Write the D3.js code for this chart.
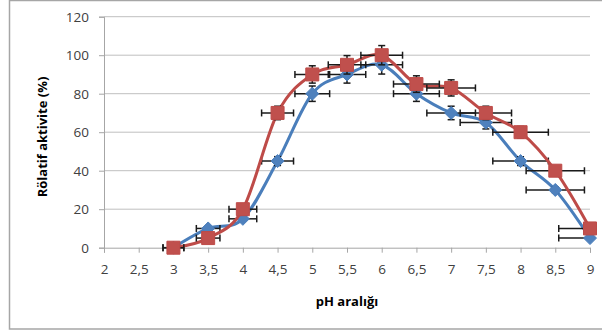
<!DOCTYPE html>
<html>
<head>
<meta charset="utf-8">
<script src="https://cdn.jsdelivr.net/npm/d3@7"></script>
<style>
  body { margin: 0; background: #fff; }
  svg { display: block; }
</style>
</head>
<body>
<svg id="chart" width="602" height="332"></svg>
<script>
// pH values (x) and relative activity (%) for two series
const phValues = [3, 3.5, 4, 4.5, 5, 5.5, 6, 6.5, 7, 7.5, 8, 8.5, 9];
const blueValues = [0, 10, 15, 45, 80, 90, 95, 80, 70, 65, 45, 30, 5];
const redValues = [0, 5, 20, 70, 90, 95, 100, 85, 83, 70, 60, 40, 10];

// error bar sizes (x in pH, y in %)
const xErrors = [0.15, 0.17, 0.2, 0.23, 0.25, 0.27, 0.3, 0.33, 0.35, 0.37, 0.4, 0.42, 0.45];
const blueYErrors = [0, 0.5, 0.8, 2.3, 4, 4.5, 4.8, 4, 3.5, 3.3, 2.3, 1.5, 0.3];
const redYErrors = [0, 0.3, 1, 3.5, 4.5, 4.8, 5, 4.3, 4.2, 3.5, 3, 2, 0.5];

const xTicks = [2, 2.5, 3, 3.5, 4, 4.5, 5, 5.5, 6, 6.5, 7, 7.5, 8, 8.5, 9];
const yTicks = [0, 20, 40, 60, 80, 100, 120];

const series = [
  { name: 'blue', values: blueValues, yErr: blueYErrors, line: '#4a7ebb', fill: '#4f81bd', marker: 'diamond' },
  { name: 'red', values: redValues, yErr: redYErrors, line: '#be4b48', fill: '#c0504d', marker: 'square' },
];

const plot = { left: 104, right: 590, top: 16.7, bottom: 247.7 };

const svg = d3.select('#chart');

// chart area border
svg.append('rect')
  .attr('x', 9.5)
  .attr('y', 0.5)
  .attr('width', 600)
  .attr('height', 328.5)
  .attr('fill', 'none')
  .attr('stroke', '#a6a6a6')
  .attr('stroke-width', 1.5);

const x = d3.scaleLinear().domain([2, 9]).range([plot.left, plot.right]);
const y = d3.scaleLinear().domain([0, 120]).range([plot.bottom, plot.top]);

// horizontal gridlines
svg.append('g')
  .attr('class', 'grid')
  .selectAll('line')
  .data(yTicks.filter((t) => t > 0))
  .join('line')
  .attr('x1', plot.left)
  .attr('x2', plot.right)
  .attr('y1', (d) => y(d))
  .attr('y2', (d) => y(d))
  .attr('stroke', '#bfbfbf')
  .attr('stroke-width', 1);

const tickFont = '"Open Sans", sans-serif';

// y axis
svg.append('g')
  .attr('transform', `translate(${plot.left},0)`)
  .call(d3.axisLeft(y).tickValues(yTicks).tickSize(5).tickPadding(10))
  .call((g) => g.select('.domain').attr('stroke', '#a6a6a6'))
  .call((g) => g.selectAll('.tick line').attr('stroke', '#a6a6a6'))
  .call((g) => g.selectAll('.tick text')
    .attr('fill', '#404040')
    .style('font', `13.5px ${tickFont}`));

// x axis
svg.append('g')
  .attr('transform', `translate(0,${plot.bottom})`)
  .call(d3.axisBottom(x).tickValues(xTicks).tickSize(5).tickPadding(12)
    .tickFormat((d) => String(d).replace('.', ',')))
  .call((g) => g.select('.domain').attr('stroke', '#a6a6a6'))
  .call((g) => g.selectAll('.tick line').attr('stroke', '#a6a6a6'))
  .call((g) => g.selectAll('.tick text')
    .attr('fill', '#404040')
    .style('font', `13.5px ${tickFont}`));

// axis titles
svg.append('text')
  .attr('transform', 'translate(47,137) rotate(-90)')
  .attr('text-anchor', 'middle')
  .style('font', `bold 13px ${tickFont}`)
  .attr('fill', '#000')
  .text('Rölatif aktivite (%)');

svg.append('text')
  .attr('x', 347)
  .attr('y', 306)
  .attr('text-anchor', 'middle')
  .style('font', `bold 13px ${tickFont}`)
  .attr('fill', '#000')
  .text('pH aralığı');

svg.append('clipPath')
  .attr('id', 'plotClip')
  .append('rect')
  .attr('x', plot.left)
  .attr('y', 0)
  .attr('width', plot.right - plot.left + 0.5)
  .attr('height', plot.bottom + 10);

const line = d3.line()
  .x((d) => x(d.ph))
  .y((d) => y(d.v))
  .curve(d3.curveCardinal.tension(0));

const capHalf = 3.5;

series.forEach((s) => {
  const pts = phValues.map((ph, i) => ({
    ph, v: s.values[i], xe: xErrors[i], ye: s.yErr[i],
  }));
  const g = svg.append('g').attr('class', `series-${s.name}`);

  g.append('path')
    .datum(pts)
    .attr('d', line)
    .attr('fill', 'none')
    .attr('stroke', s.line)
    .attr('stroke-width', 3)
    .attr('stroke-linejoin', 'round');

  // error bars
  const eb = g.append('g')
    .attr('clip-path', 'url(#plotClip)')
    .attr('stroke', '#1a1a1a')
    .attr('stroke-width', 1.5)
    .selectAll('g')
    .data(pts)
    .join('g');

  // horizontal bar + caps
  eb.append('line')
    .attr('x1', (d) => x(d.ph - d.xe))
    .attr('x2', (d) => x(d.ph + d.xe))
    .attr('y1', (d) => y(d.v))
    .attr('y2', (d) => y(d.v));
  eb.append('line')
    .attr('x1', (d) => x(d.ph - d.xe))
    .attr('x2', (d) => x(d.ph - d.xe))
    .attr('y1', (d) => y(d.v) - capHalf)
    .attr('y2', (d) => y(d.v) + capHalf);
  eb.append('line')
    .attr('x1', (d) => x(d.ph + d.xe))
    .attr('x2', (d) => x(d.ph + d.xe))
    .attr('y1', (d) => y(d.v) - capHalf)
    .attr('y2', (d) => y(d.v) + capHalf);

  // vertical bar + caps
  const withY = eb.filter((d) => d.ye > 1);
  withY.append('line')
    .attr('x1', (d) => x(d.ph))
    .attr('x2', (d) => x(d.ph))
    .attr('y1', (d) => y(d.v + d.ye))
    .attr('y2', (d) => y(d.v - d.ye));
  withY.append('line')
    .attr('x1', (d) => x(d.ph) - capHalf)
    .attr('x2', (d) => x(d.ph) + capHalf)
    .attr('y1', (d) => y(d.v + d.ye))
    .attr('y2', (d) => y(d.v + d.ye));
  withY.append('line')
    .attr('x1', (d) => x(d.ph) - capHalf)
    .attr('x2', (d) => x(d.ph) + capHalf)
    .attr('y1', (d) => y(d.v - d.ye))
    .attr('y2', (d) => y(d.v - d.ye));

  // markers
  g.selectAll('path.marker')
    .data(pts)
    .join('path')
    .attr('class', 'marker')
    .attr('transform', (d) => `translate(${x(d.ph)},${y(d.v)})`)
    .attr('d', s.marker === 'square' ? 'M-6.5,-6.5H6.5V6.5H-6.5Z' : 'M0,-6.5L6.5,0L0,6.5L-6.5,0Z')
    .attr('fill', s.fill)
    .attr('stroke', s.line)
    .attr('stroke-width', 1);
});
</script>
</body>
</html>
